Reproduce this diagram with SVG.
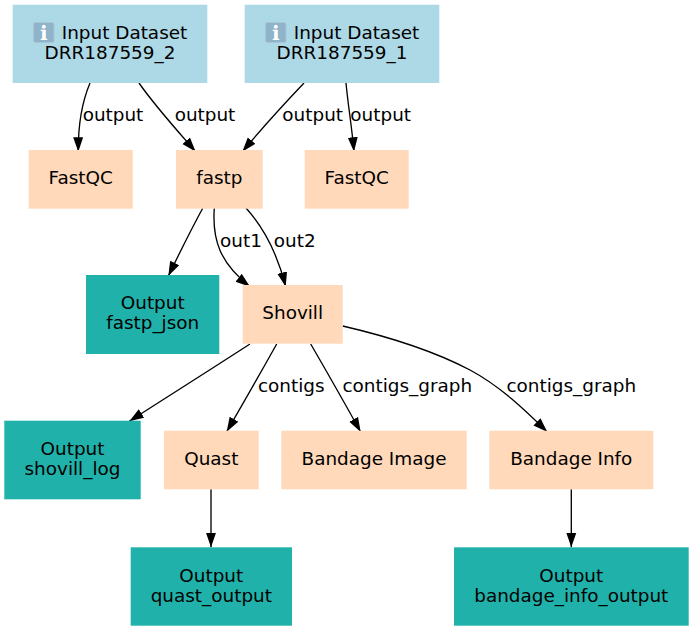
<svg xmlns="http://www.w3.org/2000/svg" width="693" height="631" viewBox="0 0 693 631">
<style>
text{font-family:"DejaVu Sans",sans-serif;font-size:18.4px;fill:#000;text-anchor:middle}
text.emo{fill:#fff;font-weight:bold;font-size:20px}
.icon{fill:#8fb3c8;stroke:#a9c6d6;stroke-width:1}
.input{fill:#add8e6}.tool{fill:#ffd9b9}.out{fill:#20b2aa}
.e{fill:none;stroke:#000;stroke-width:1.33}
</style>
<defs><marker id="a" markerUnits="userSpaceOnUse" markerWidth="15" markerHeight="12" refX="14.5" refY="5.5" orient="auto"><path d="M0 0.5L14.5 5.5L0 10.5Z"/></marker></defs>
<rect width="693" height="631" fill="#fff"/>
<g id="connectors">
<path class="e" marker-end="url(#a)" d="M90 83C82 102 78 122 78.3 151.7"/>
<path class="e" marker-end="url(#a)" d="M139 83C155 106 175 128 195.7 151.7"/>
<path class="e" marker-end="url(#a)" d="M304 83C285 103 263 127 242.3 151.7"/>
<path class="e" marker-end="url(#a)" d="M346 83C348 105 352 128 354 151.7"/>
<path class="e" marker-end="url(#a)" d="M202.7 208.3C192 228 181 250 168.3 276"/>
<path class="e" marker-end="url(#a)" d="M214.3 208C212 240 220 263 250 286.7"/>
<path class="e" marker-end="url(#a)" d="M246 208C264 228 278 256 285.7 286.7"/>
<path class="e" marker-end="url(#a)" d="M250 344C210 370 170 395 129.3 421.3"/>
<path class="e" marker-end="url(#a)" d="M276.7 344C261 372 244 402 226.7 431.7"/>
<path class="e" marker-end="url(#a)" d="M310.7 344C327 372 344 402 360.7 432"/>
<path class="e" marker-end="url(#a)" d="M342.7 326C390 337 432 350 470 370C500 386 525 410 547.3 432"/>
<path class="e" marker-end="url(#a)" d="M211 489.3V547.3"/>
<path class="e" marker-end="url(#a)" d="M571.3 489.3V547.3"/>
<g id="edge-labels">
<text x="113" y="121.3">output</text><text x="205" y="121.3">output</text><text x="312.7" y="121.3">output</text><text x="380.7" y="121.3">output</text>
<text x="241" y="246.7">out1</text><text x="294.7" y="246.7">out2</text>
<text x="291.3" y="392">contigs</text><text x="407.3" y="392">contigs_graph</text><text x="571.3" y="392">contigs_graph</text>
</g>
</g>
<g id="input2"><rect class="input" x="12.7" y="4.7" width="194.6" height="78.3"/><rect class="icon" x="33.5" y="22.5" width="20.5" height="20" rx="2"/><text class="emo" x="43.7" y="40">ℹ</text><text x="124.5" y="39.3">Input Dataset</text><text x="110" y="59.3">DRR187559_2</text></g>
<g id="input1"><rect class="input" x="244.7" y="4.7" width="194.6" height="78.3"/><rect class="icon" x="265.5" y="22.5" width="20.5" height="20" rx="2"/><text class="emo" x="275.7" y="40">ℹ</text><text x="356.5" y="39.3">Input Dataset</text><text x="342" y="59.3">DRR187559_1</text></g>
<g id="fastqc1"><rect class="tool" x="28.7" y="150" width="104" height="58.7"/><text x="80.7" y="184">FastQC</text></g>
<g id="fastp"><rect class="tool" x="176" y="150" width="86.7" height="58.7"/><text x="219.3" y="184">fastp</text></g>
<g id="fastqc2"><rect class="tool" x="304.7" y="150" width="104" height="58.7"/><text x="356.7" y="184">FastQC</text></g>
<g id="out-fastp"><rect class="out" x="86" y="275" width="133.3" height="79"/><text x="152.7" y="309.3">Output</text><text x="152.7" y="329.3">fastp_json</text></g>
<g id="shovill"><rect class="tool" x="242.7" y="285" width="100" height="58.7"/><text x="292.7" y="319.3">Shovill</text></g>
<g id="out-shovill"><rect class="out" x="4.3" y="420.7" width="136.4" height="78.6"/><text x="72.5" y="455">Output</text><text x="72.5" y="475">shovill_log</text></g>
<g id="quast"><rect class="tool" x="164" y="430.7" width="94.7" height="58.6"/><text x="211.3" y="465">Quast</text></g>
<g id="bandage-image"><rect class="tool" x="281.3" y="430.7" width="185.4" height="58.6"/><text x="374" y="465">Bandage Image</text></g>
<g id="bandage-info"><rect class="tool" x="489.3" y="430.7" width="164" height="58.6"/><text x="571.3" y="465">Bandage Info</text></g>
<g id="out-quast"><rect class="out" x="130.7" y="547.3" width="161.3" height="78.4"/><text x="211.3" y="581.7">Output</text><text x="211.3" y="601.7">quast_output</text></g>
<g id="out-bandage"><rect class="out" x="454" y="547.3" width="234.7" height="78.4"/><text x="571.3" y="581.7">Output</text><text x="571.3" y="601.7">bandage_info_output</text></g>
</svg>
